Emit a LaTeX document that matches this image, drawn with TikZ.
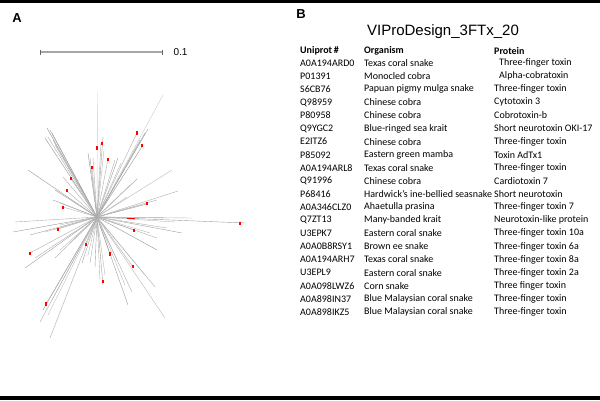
\documentclass[tikz,border=0pt]{standalone}
\usepackage{fontspec}
\setmainfont{Carlito}
\newfontfamily\arialfont{Liberation Sans}
\usetikzlibrary{positioning}

\begin{document}
\begin{tikzpicture}[x=1pt, y=-1pt,
        branch/.style={line width=0.4pt},
        redmark/.style={fill=red, inner sep=0pt, minimum width=2.2pt, minimum height=3.2pt},
        cell/.style={anchor=west, inner sep=0pt, font=\fontsize{10}{12}\selectfont},
        head/.style={cell, font=\fontsize{10}{12}\selectfont\bfseries},
        panel/.style={font=\arialfont\fontsize{13}{15}\selectfont\bfseries}
    ]
    \useasboundingbox (0,0) rectangle (600,400);

    % Black bands at top and bottom
    \fill[black] (0,0) rectangle (600,3);
    \fill[black] (0,396) rectangle (600,400);

    % Panel labels
    \node[panel] (labA) at (17,18) {A};
    \node[panel] (labB) at (301,14) {B};

    % Scale bar
    \coordinate (sbl) at (40,52);
    \coordinate (sbr) at (162,52);
    \draw[gray!70, line width=1.6pt] (sbl) -- (sbr);
    \draw[gray!80!black, line width=0.9pt] ([yshift=-2.5pt]sbl) -- ([yshift=2.5pt]sbl);
    \draw[gray!80!black, line width=0.9pt] ([yshift=-2.5pt]sbr) -- ([yshift=2.5pt]sbr);
    \node[font=\arialfont\fontsize{10}{12}\selectfont, right=8pt of sbr] (sblab) {0.1};

    % Unrooted tree
    \coordinate (root) at (97,217);
    \foreach \ex/\ey/\sh in {97.5/92/20, 163/95/20, 148/129/38, 145/133/38, 143/145/42, 140/140/32,
        137/133/32, 118/158/38, 115/160/32, 121/163/28, 108/159/32, 103/137/38, 104/150/28,
        101/143/32, 88/153/42, 90/158/38, 93/158/32, 92/167/28,
        47/128/42, 45/138/42, 50/130/38, 52/133/38, 48/137/32, 53/140/32, 55/145/28,
        28/170/40, 63/177/32, 71/179/28, 55/190/38, 67/191/32, 53/200/38, 60/203/32, 63/207/28,
        15/222/32, 13/232/40, 30/235/38, 58/229/32, 60/225/28, 45/232/28,
        25/268/38, 30/253/32, 35/258/32, 55/258/32, 70/243/32, 60/250/28,
        40/322/32, 43/310/38, 46/304/32, 50/338/32, 48/315/28, 52/300/28,
        82/263/38, 85/245/32, 90/263/32, 95/267/38, 88/255/28,
        100/280/32, 103/285/38, 105/275/28, 110/254/32, 117/260/28,
        128/305/38, 132/292/32, 125/285/28, 133/267/32, 155/287/32, 165/318/28, 145/275/28,
        157/250/42, 157/238/32, 182/233/38, 167/228/32, 134/230/32, 150/233/28,
        245/223/38, 192/218/28, 167/218/32, 131/218/28, 175/222/28,
        172/170/28, 178/191/32, 147/204/38, 157/200/32, 140/205/28,
        137/179/38, 127/197/32, 130/185/28}
        \draw[branch, black!\sh] (root) -- (\ex,\ey);

    % Red markers on the tree
    \foreach \mx/\my [count=\i] in {97/148, 101.7/143.7, 107.7/159.3, 136.7/133, 142.3/145.7,
        91.7/167.3, 71/178.7, 67/190.7, 63.3/207.3, 58.3/229.3, 30/253.3, 46/304,
        85.7/244.7, 110.3/254, 102.7/281.3, 133.3/266.7, 134.3/230.3, 146.7/203.7, 240/223.7}
        \node[redmark] (m\i) at (\mx,\my) {};
    \node[redmark, minimum width=8pt, minimum height=1.6pt] (mbar) at (131,218.3) {};

    % Title and table
    \node[font=\arialfont\fontsize{15}{18}\selectfont] (title) at (443,32) {VIProDesign\_3FTx\_20};
    \node[head] (hid) at (300,51) {Uniprot\,\#};
    \node[head] (horg) at (364,51) {Organism};
    \node[head] (hprot) at (494,51) {Protein};
    \foreach \id/\org/\prot [count=\i] in {
        A0A194ARD0/Texas coral snake/\kern5pt Three-finger toxin,
        P01391/Monocled cobra/\kern5pt Alpha-cobratoxin,
        S6CB76/Papuan pigmy mulga snake/Three-finger toxin,
        Q98959/Chinese cobra/Cytotoxin 3,
        P80958/Chinese cobra/Cobrotoxin-b,
        Q9YGC2/Blue-ringed sea krait/Short neurotoxin OKI-17,
        E2ITZ6/Chinese cobra/Three-finger toxin,
        P85092/Eastern green mamba/Toxin AdTx1,
        A0A194ARL8/Texas coral snake/Three-finger toxin,
        Q91996/Chinese cobra/Cardiotoxin 7,
        P68416/Hardwick’s ine-bellied seasnake/Short neurotoxin,
        A0A346CLZ0/Ahaetulla prasina/Three-finger toxin 7,
        Q7ZT13/Many-banded krait/Neurotoxin-like protein,
        U3EPK7/Eastern coral snake/Three-finger toxin 10a,
        A0A0B8RSY1/Brown ee snake/Three-finger toxin 6a,
        A0A194ARH7/Texas coral snake/Three-finger toxin 8a,
        U3EPL9/Eastern coral snake/Three-finger toxin 2a,
        A0A098LWZ6/Corn snake/Three finger toxin,
        A0A898IN37/Blue Malaysian coral snake/Three-finger toxin,
        A0A898IKZ5/Blue Malaysian coral snake/Three-finger toxin}
    {
        \node[cell] (id\i) at (300,{63+13.1*(\i-1)}) {\id};
        \node[cell] (org\i) at (364,{63+13.1*(\i-1)}) {\org};
        \node[cell] (prot\i) at (494,{63+13.1*(\i-1)}) {\prot};
    }

\end{tikzpicture}
\end{document}
